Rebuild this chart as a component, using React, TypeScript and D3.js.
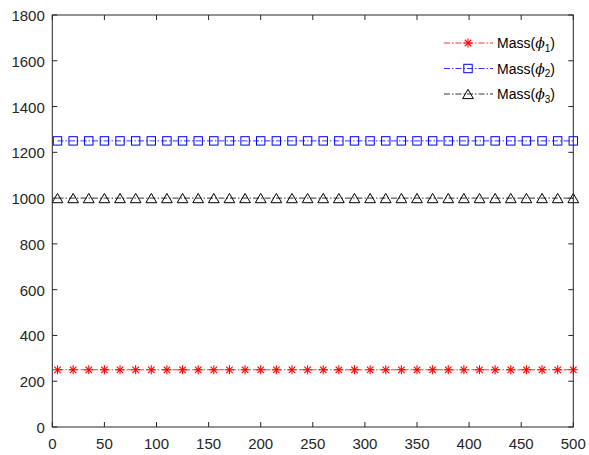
import React from "react";
import * as d3 from "d3";

// Sample positions where markers are drawn
const sampleX: number[] = [
  5, 20, 35, 50, 65, 80, 95, 110, 125, 140, 155, 170, 185, 200, 215, 230, 245,
  260, 275, 290, 305, 320, 335, 350, 365, 380, 395, 410, 425, 440, 455, 470,
  485, 500,
];

// Constant mass of each component
const massPhi1: number[] = sampleX.map(() => 250);
const massPhi2: number[] = sampleX.map(() => 1250);
const massPhi3: number[] = sampleX.map(() => 1000);

const xTicks: number[] = [0, 50, 100, 150, 200, 250, 300, 350, 400, 450, 500];
const yTicks: number[] = [0, 200, 400, 600, 800, 1000, 1200, 1400, 1600, 1800];

const seriesNames: string[] = ["1", "2", "3"];
const seriesColors: string[] = ["#ff0000", "#0000ff", "#000000"];
const seriesMarkers: string[] = ["star", "square", "triangle"];

const W = 589;
const H = 455;
const M = { left: 52.3, right: 573.3, top: 15, bottom: 427 };
const AX = "#262626";

function Marker({ kind, x, y, color }: { kind: string; x: number; y: number; color: string }) {
  if (kind === "star") {
    const r = 4.5;
    const d = r * 0.72;
    return (
      <g stroke={color} strokeWidth={1.1}>
        <line x1={x - r} y1={y} x2={x + r} y2={y} />
        <line x1={x} y1={y - r} x2={x} y2={y + r} />
        <line x1={x - d} y1={y - d} x2={x + d} y2={y + d} />
        <line x1={x - d} y1={y + d} x2={x + d} y2={y - d} />
      </g>
    );
  }
  if (kind === "square") {
    const s = 4.2;
    return <rect x={x - s} y={y - s} width={2 * s} height={2 * s} fill="none" stroke={color} strokeWidth={1} />;
  }
  const r = 6.2;
  const pts = d3.range(3).map((i) => {
    const a = -Math.PI / 2 + (i * 2 * Math.PI) / 3;
    return [x + r * Math.cos(a), y + 1.5 + r * Math.sin(a)];
  });
  return <polygon points={pts.map((p) => p.join(",")).join(" ")} fill="none" stroke={color} strokeWidth={1} />;
}

export default function App() {
  const x = d3.scaleLinear().domain([0, 500]).range([M.left, M.right]);
  const y = d3.scaleLinear().domain([0, 1800]).range([M.bottom, M.top]);
  const line = d3
    .line<[number, number]>()
    .x((d) => x(d[0]))
    .y((d) => y(d[1]));

  const series = [massPhi1, massPhi2, massPhi3];
  const tl = 5;
  const font = "'Liberation Sans', Arial, sans-serif";

  return (
    <svg width={W} height={H} style={{ position: "absolute", left: 0, top: 0, background: "#fff" }}>
      <rect x={0} y={0} width={W} height={H} fill="#fff" />
      {series.map((vals, si) => {
        const pts: [number, number][] = sampleX.map((sx, i) => [sx, vals[i]]);
        return (
          <g key={si}>
            <path d={line(pts) || ""} fill="none" stroke={seriesColors[si]} strokeWidth={0.8} strokeDasharray="6,2,1.5,2" />
            {pts.map((p, i) => (
              <Marker key={i} kind={seriesMarkers[si]} x={x(p[0])} y={y(p[1])} color={seriesColors[si]} />
            ))}
          </g>
        );
      })}

      {/* axes box */}
      <rect x={M.left} y={M.top} width={M.right - M.left} height={M.bottom - M.top} fill="none" stroke={AX} strokeWidth={1} />
      {xTicks.map((t) => (
        <g key={"x" + t}>
          <line x1={x(t)} x2={x(t)} y1={M.bottom} y2={M.bottom - tl} stroke={AX} />
          <line x1={x(t)} x2={x(t)} y1={M.top} y2={M.top + tl} stroke={AX} />
          <text x={x(t)} y={M.bottom + 21.5} textAnchor="middle" fontFamily={font} fontSize={15} fill={AX}>
            {t}
          </text>
        </g>
      ))}
      {yTicks.map((t) => (
        <g key={"y" + t}>
          <line x1={M.left} x2={M.left + tl} y1={y(t)} y2={y(t)} stroke={AX} />
          <line x1={M.right} x2={M.right - tl} y1={y(t)} y2={y(t)} stroke={AX} />
          <text x={M.left - 7.5} y={y(t) + 6} textAnchor="end" fontFamily={font} fontSize={15} fill={AX}>
            {t}
          </text>
        </g>
      ))}

      {/* legend */}
      {seriesNames.map((n, i) => {
        const ly = 43 + i * 25.5;
        return (
          <g key={"l" + i}>
            <line x1={444} x2={493} y1={ly} y2={ly} stroke={seriesColors[i]} strokeWidth={0.8} strokeDasharray="6,2,1.5,2" />
            <Marker kind={seriesMarkers[i]} x={468} y={ly} color={seriesColors[i]} />
            <text x={497} y={ly + 5} fontFamily={font} fontSize={14} fill="#000">
              Mass(
              <tspan fontStyle="italic" fontFamily="'DejaVu Serif', serif">ϕ</tspan>
              <tspan fontSize={10} dy={3.5}>{n}</tspan>
              <tspan dy={-3.5}>)</tspan>
            </text>
          </g>
        );
      })}
    </svg>
  );
}
